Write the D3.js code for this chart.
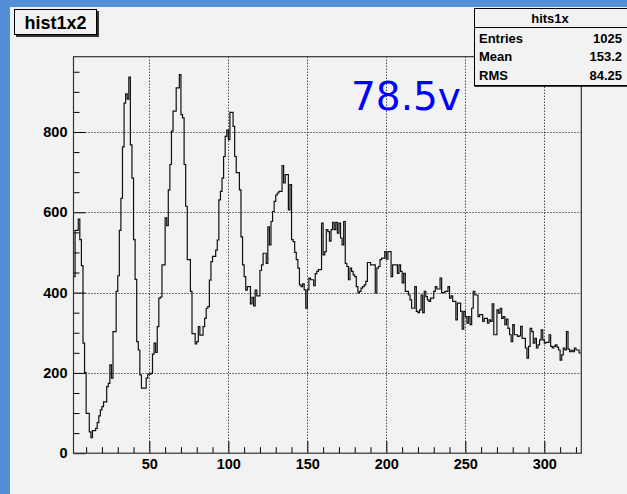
<!DOCTYPE html>
<html><head><meta charset="utf-8">
<script src="https://cdn.jsdelivr.net/npm/d3@7"></script>
<style>body{margin:0;background:#538ed6;overflow:hidden} svg{display:block}</style>
</head><body><svg id="c" width="627" height="494"></svg>
<script>
// ---- data ----
const binLow = 2;          // low edge of first bin
const binWidth = 1;
const counts = [
 440,555,555,583,532,467,274,201,99,99,
 53,39,56,56,62,76,93,108,116,128,
 128,166,174,220,187,303,303,403,442,555,
 635,763,872,895,882,937,768,685,532,433,
 278,257,195,162,162,162,187,197,197,199,
 247,274,251,315,386,389,469,469,586,567,
 656,719,802,852,852,910,910,943,843,835,
 719,615,482,482,403,298,298,272,278,315,
 294,294,315,336,361,365,431,477,490,490,
 506,531,631,652,685,739,789,805,781,849,
 849,814,739,699,699,656,539,469,440,406,
 415,415,372,388,367,406,392,392,455,469,
 498,498,473,564,519,577,602,627,643,648,
 652,652,716,673,694,694,606,669,532,527,
 500,482,461,419,415,422,407,361,407,436,
 432,432,417,447,453,457,457,573,494,502,
 557,552,528,557,575,557,575,548,573,536,
 519,577,473,465,432,461,453,444,440,415,
 399,403,411,415,419,428,475,475,469,469,
 469,399,461,465,482,486,486,502,483,502,
 502,440,469,469,469,448,469,453,424,448,
 403,403,394,382,361,361,415,353,350,357,
 394,350,403,390,382,378,386,386,403,415,
 409,409,436,400,400,403,403,415,386,392,
 378,378,332,374,374,353,309,353,340,324,
 340,320,361,403,394,394,340,345,345,328,
 336,336,324,332,328,372,295,295,357,349,
 361,336,340,320,334,311,295,278,320,295,
 295,291,292,316,286,286,262,237,266,311,
 303,274,286,262,270,282,307,282,274,276,
 276,295,266,262,266,270,264,257,232,245,
 262,257,303,259,253,256,253,262,257,257,
 250
];
const xDomain = [2, 323.4];
const yDomain = [0, 987.5];
const xTicks = [50,100,150,200,250,300];
const xMinorTicks = d3.range(10, 330, 10);
const yTicks = [0,200,400,600,800];
const yMinorTicks = d3.range(0, 1000, 50);
const titleText = "hist1x2";
const statsTitle = "hits1x";
const statsLabels = ["Entries","Mean","RMS"];
const statsValues = ["1025","153.2","84.25"];
const annotation = "78.5v";

// ---- drawing ----
const W = 627, H = 494;
const svg = d3.select("#c");
svg.append("rect").attr("width",W).attr("height",H).attr("fill","#538ed6");
svg.append("rect").attr("x",10).attr("y",7).attr("width",W-10).attr("height",H-7).attr("fill","#f2f2f2");

const L = 73.5, R = 581.3, T = 56.7, B = 453.2;
const x = d3.scaleLinear().domain(xDomain).range([L, R]);
const y = d3.scaleLinear().domain(yDomain).range([B, T]);
const font = "'Liberation Sans', Arial, Helvetica, sans-serif";

// grid
const grid = svg.append("g").attr("stroke","#000").attr("stroke-width",1).attr("stroke-dasharray","1,2");
xTicks.forEach(v => {
  const px = Math.round(x(v)) + 0.5;
  grid.append("line").attr("x1",px).attr("x2",px).attr("y1",T).attr("y2",B);
});
yTicks.filter(v => v > 0).forEach(v => {
  const py = Math.round(y(v)) + 0.5;
  grid.append("line").attr("x1",L).attr("x2",R).attr("y1",py).attr("y2",py);
});

// histogram
const pts = counts.map((c,i) => [binLow + i*binWidth, c]);
pts.push([binLow + counts.length*binWidth, counts[counts.length-1]]);
const line = d3.line().x(d => x(d[0])).y(d => y(d[1])).curve(d3.curveStepAfter);
svg.append("path").attr("d", line(pts)).attr("fill","none").attr("stroke","#111").attr("stroke-width",1.2);

// axes
function styleAxis(g){
  g.select(".domain").remove();
  g.selectAll("line").attr("stroke","#000");
  g.selectAll("text").attr("font-family",font).attr("font-weight","bold").attr("font-size",14.5).attr("fill","#000");
}
svg.append("g").attr("transform",`translate(0,${B})`)
  .call(d3.axisBottom(x).tickValues(xMinorTicks.filter(v=>!xTicks.includes(v))).tickSize(-6).tickFormat(""))
  .call(styleAxis);
svg.append("g").attr("transform",`translate(0,${B})`)
  .call(d3.axisBottom(x).tickValues(xTicks).tickSize(-12).tickPadding(6))
  .call(styleAxis);
svg.append("g").attr("transform",`translate(${L},0)`)
  .call(d3.axisLeft(y).tickValues(yMinorTicks.filter(v=>!yTicks.includes(v))).tickSize(-6).tickFormat(""))
  .call(styleAxis);
svg.append("g").attr("transform",`translate(${L},0)`)
  .call(d3.axisLeft(y).tickValues(yTicks).tickSize(-12).tickPadding(6))
  .call(styleAxis);

// frame
svg.append("rect").attr("x",L).attr("y",T).attr("width",R-L).attr("height",B-T)
  .attr("fill","none").attr("stroke","#333").attr("stroke-width",1.2);

// annotation
svg.append("text").attr("x",351).attr("y",110).text(annotation)
  .attr("font-family","'DejaVu Sans', Verdana, sans-serif").attr("font-size",39).attr("fill","#0000ff");

// title box
const tb = svg.append("g");
tb.append("rect").attr("x",16).attr("y",11).attr("width",83).attr("height",26).attr("fill","#333");
tb.append("rect").attr("x",14.5).attr("y",9.5).attr("width",82).attr("height",25).attr("fill","#f2f2f2").attr("stroke","#000");
tb.append("text").attr("x",55.5).attr("y",29).attr("text-anchor","middle").text(titleText)
  .attr("font-family",font).attr("font-weight","bold").attr("font-size",18);

// stats box
const sb = svg.append("g");
sb.append("rect").attr("x",474.5).attr("y",8.5).attr("width",170).attr("height",77)
  .attr("fill","#f2f2f2").attr("stroke","#000").attr("stroke-width",1);
sb.append("line").attr("x1",474.5).attr("x2",W).attr("y1",86).attr("y2",86).attr("stroke","#000").attr("stroke-width",1.5);
sb.append("line").attr("x1",474.5).attr("x2",W).attr("y1",27.5).attr("y2",27.5).attr("stroke","#000");
sb.append("text").attr("x",550).attr("y",23).attr("text-anchor","middle").text(statsTitle)
  .attr("font-family",font).attr("font-weight","bold").attr("font-size",13);
statsLabels.forEach((lab,i) => {
  const by = 42.5 + i*18.5;
  sb.append("text").attr("x",479).attr("y",by).text(lab)
    .attr("font-family",font).attr("font-weight","bold").attr("font-size",13);
  sb.append("text").attr("x",622).attr("y",by).attr("text-anchor","end").text(statsValues[i])
    .attr("font-family",font).attr("font-weight","bold").attr("font-size",13);
});
</script></body></html>
